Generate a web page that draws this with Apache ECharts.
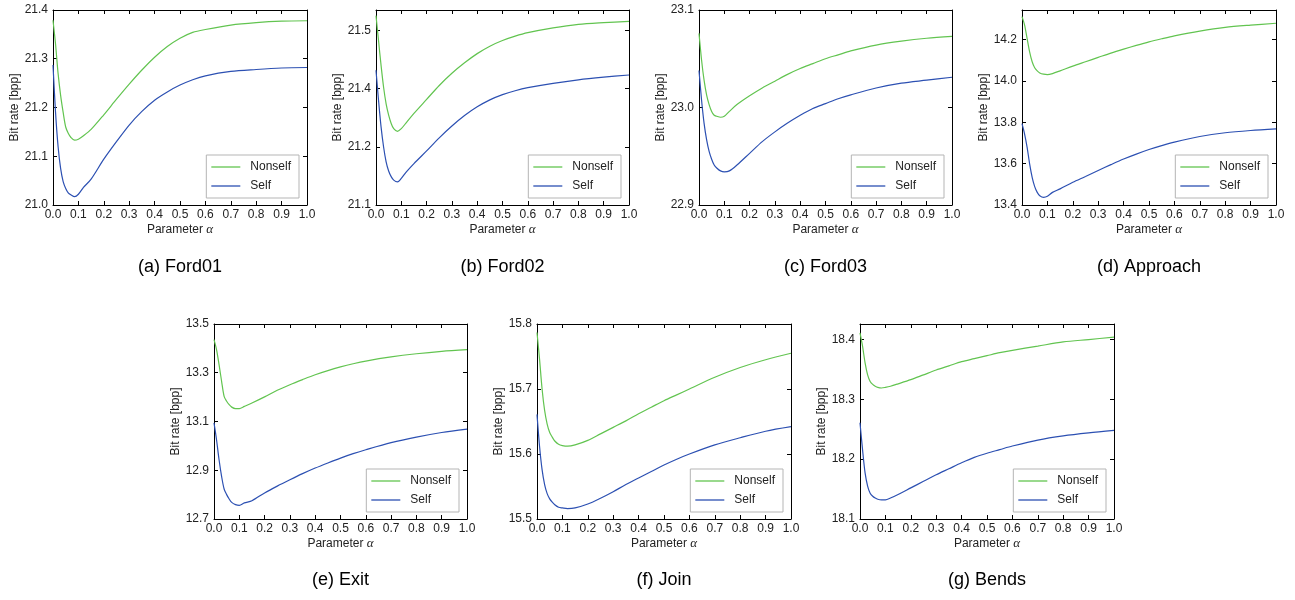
<!DOCTYPE html>
<html>
<head>
<meta charset="utf-8">
<title>Bit rate vs alpha</title>
<script src="https://cdn.jsdelivr.net/npm/echarts@6/dist/echarts.min.js"></script>
<style>
  html, body { margin: 0; padding: 0; background: #fff; }
  #chart { width: 1295px; height: 600px; }
</style>
</head>
<body>
<div id="chart"></div>
<script>
// sampled values of the parameter alpha (shared by every panel)
const alpha = [0, 0.01, 0.02, 0.03, 0.04, 0.05, 0.06, 0.07, 0.085, 0.1, 0.12, 0.15, 0.2,
    0.25, 0.3, 0.35, 0.4, 0.45, 0.5, 0.55, 0.6, 0.7, 0.8, 0.9, 1.0];

const captions = ['(a) Ford01', '(b) Ford02', '(c) Ford03', '(d) Approach', '(e) Exit', '(f) Join', '(g) Bends'];
const seriesNames = ['Nonself', 'Self'];

// bit rate [bpp], one array per sequence and method
const ford01Nonself = [21.379, 21.33, 21.27, 21.225, 21.19, 21.16, 21.147, 21.139, 21.133, 21.135, 21.142, 21.155, 21.185,
    21.217, 21.248, 21.277, 21.303, 21.325, 21.342, 21.354, 21.360, 21.369, 21.374, 21.377, 21.378];
const ford01Self = [21.287, 21.19, 21.12, 21.075, 21.048, 21.034, 21.025, 21.021, 21.017, 21.022, 21.036, 21.053, 21.094,
    21.13, 21.164, 21.192, 21.215, 21.232, 21.246, 21.257, 21.265, 21.274, 21.278, 21.281, 21.282];

const ford02Nonself = [21.534, 21.477, 21.42, 21.37, 21.332, 21.306, 21.287, 21.275, 21.269, 21.275, 21.289, 21.31, 21.342,
    21.374, 21.402, 21.426, 21.447, 21.464, 21.477, 21.487, 21.495, 21.506, 21.514, 21.518, 21.521];
const ford02Self = [21.409, 21.34, 21.279, 21.233, 21.199, 21.178, 21.165, 21.157, 21.153, 21.161, 21.176, 21.195, 21.224,
    21.254, 21.281, 21.305, 21.325, 21.341, 21.353, 21.362, 21.369, 21.379, 21.387, 21.393, 21.398];

const ford03Nonself = [23.076, 23.049, 23.028, 23.013, 23.003, 22.996, 22.992, 22.991, 22.990, 22.991, 22.996, 23.003, 23.012,
    23.020, 23.027, 23.034, 23.040, 23.045, 23.050, 23.054, 23.058, 23.064, 23.068, 23.071, 23.073];
const ford03Self = [23.038, 23.008, 22.984, 22.967, 22.955, 22.947, 22.941, 22.938, 22.935, 22.934, 22.935, 22.941, 22.953,
    22.965, 22.975, 22.984, 22.992, 22.999, 23.004, 23.009, 23.013, 23.020, 23.025, 23.028, 23.031];

const approachNonself = [14.310, 14.270, 14.205, 14.140, 14.092, 14.063, 14.048, 14.038, 14.032, 14.030, 14.035, 14.048, 14.071,
    14.092, 14.113, 14.134, 14.153, 14.171, 14.188, 14.203, 14.217, 14.240, 14.258, 14.269, 14.278];
const approachSelf = [13.793, 13.744, 13.680, 13.599, 13.534, 13.489, 13.461, 13.445, 13.437, 13.442, 13.461, 13.478, 13.510,
    13.538, 13.567, 13.595, 13.622, 13.646, 13.668, 13.687, 13.704, 13.731, 13.749, 13.760, 13.768];

const exitNonself = [13.436, 13.395, 13.333, 13.265, 13.203, 13.183, 13.169, 13.159, 13.153, 13.153, 13.162, 13.176, 13.201,
    13.228, 13.251, 13.272, 13.292, 13.309, 13.324, 13.337, 13.348, 13.365, 13.378, 13.388, 13.395];
const exitSelf = [13.094, 13.025, 12.943, 12.875, 12.823, 12.800, 12.782, 12.768, 12.759, 12.756, 12.766, 12.775, 12.807,
    12.835, 12.861, 12.886, 12.909, 12.930, 12.950, 12.968, 12.984, 13.013, 13.036, 13.055, 13.069];

const joinNonself = [15.787, 15.746, 15.70, 15.667, 15.646, 15.633, 15.626, 15.620, 15.615, 15.613, 15.612, 15.614, 15.621,
    15.631, 15.641, 15.651, 15.662, 15.672, 15.682, 15.691, 15.70, 15.718, 15.733, 15.745, 15.755];
const joinSelf = [15.661, 15.612, 15.576, 15.553, 15.539, 15.531, 15.526, 15.522, 15.518, 15.517, 15.516, 15.517, 15.523,
    15.532, 15.542, 15.553, 15.563, 15.573, 15.583, 15.592, 15.600, 15.614, 15.625, 15.635, 15.642];

const bendsNonself = [18.411, 18.389, 18.361, 18.341, 18.330, 18.325, 18.322, 18.320, 18.319, 18.320, 18.322, 18.326, 18.333,
    18.341, 18.349, 18.356, 18.363, 18.368, 18.373, 18.378, 18.382, 18.389, 18.396, 18.400, 18.404];
const bendsSelf = [18.261, 18.216, 18.177, 18.155, 18.143, 18.138, 18.135, 18.133, 18.132, 18.132, 18.135, 18.141, 18.152,
    18.163, 18.174, 18.184, 18.194, 18.203, 18.210, 18.216, 18.222, 18.232, 18.239, 18.244, 18.248];

const panelData = [
    [ford01Nonself, ford01Self],
    [ford02Nonself, ford02Self],
    [ford03Nonself, ford03Self],
    [approachNonself, approachSelf],
    [exitNonself, exitSelf],
    [joinNonself, joinSelf],
    [bendsNonself, bendsSelf],
];

// y axis ranges [min, max, interval]
const yRanges = [
    [21.0, 21.4, 0.1],
    [21.1, 21.547, 0.4 / 3],
    [22.9, 23.1, 0.1],
    [13.4, 14.342, 0.2],
    [12.7, 13.5, 0.2],
    [15.5, 15.8, 0.1],
    [18.1, 18.426, 0.1],
];

// plot boxes in px: [left, top, right, bottom]
const boxes = [
    [53, 10, 307, 205],
    [376, 10, 629, 205],
    [699, 10, 952, 205],
    [1022, 10, 1276, 205],
    [214, 324, 467, 519],
    [537, 324, 791, 519],
    [860, 324, 1114, 519],
];

const colors = ['#62c450', '#2c50b2'];
const axisFont = 'Liberation Sans';

const chart = echarts.init(document.getElementById('chart'), null, { renderer: 'canvas' });

const grid = [], xAxis = [], yAxis = [], series = [], legend = [], title = [];

boxes.forEach(([l, t, r, b], i) => {
    grid.push({ left: l, top: t, width: r - l, height: b - t, containLabel: false });

    const frame = {
        axisLine: { show: true, onZero: false, lineStyle: { color: '#000', width: 1 } },
        axisTick: { show: true, inside: true, length: 4, lineStyle: { color: '#000', width: 1 } },
        splitLine: { show: false },
    };
    const xBase = { type: 'value', gridIndex: i, min: 0, max: 1, interval: 0.1, ...frame };
    xAxis.push({
        ...xBase,
        position: 'bottom',
        axisLabel: { margin: 4, fontSize: 12, color: '#222', fontFamily: axisFont, formatter: (v) => v.toFixed(1) },
        name: 'Parameter {a|α}',
        nameLocation: 'middle',
        nameGap: 18,
        nameTextStyle: {
            fontSize: 12, color: '#222', fontFamily: axisFont,
            rich: { a: { fontSize: 13, fontStyle: 'italic', fontFamily: 'Liberation Serif', color: '#222' } },
        },
    });
    xAxis.push({ ...xBase, position: 'top', axisLabel: { show: false } });

    const [ymin, ymax, yint] = yRanges[i];
    const yBase = { type: 'value', gridIndex: i, min: ymin, max: ymax, interval: yint, scale: true, ...frame };
    yAxis.push({
        ...yBase,
        position: 'left',
        axisLabel: {
            margin: 5, fontSize: 12, color: '#222', fontFamily: axisFont,
            showMaxLabel: Math.abs((ymax - ymin) / yint - Math.round((ymax - ymin) / yint)) < 1e-6,
            formatter: (v) => v.toFixed(1),
        },
        name: 'Bit rate [bpp]',
        nameLocation: 'middle',
        nameGap: 31,
        nameTextStyle: { fontSize: 12, color: '#222', fontFamily: axisFont },
    });
    yAxis.push({ ...yBase, position: 'right', axisLabel: { show: false } });

    panelData[i].forEach((vals, k) => {
        series.push({
            type: 'line',
            name: seriesNames[k],
            xAxisIndex: 2 * i,
            yAxisIndex: 2 * i,
            data: alpha.map((a, j) => [a, vals[j]]),
            smooth: 0.3,
            symbol: 'none',
            lineStyle: { color: colors[k], width: 1.2 },
            itemStyle: { color: colors[k] },
            animation: false,
        });
    });

    legend.push({
        orient: 'vertical',
        right: 1295 - r + 8,
        bottom: 600 - b + 7,
        icon: 'rect',
        itemWidth: 29,
        itemHeight: 1.3,
        itemGap: 5,
        padding: [5, 8, 5, 5],
        borderColor: '#b5b5b5',
        borderWidth: 1,
        selectedMode: false,
        textStyle: { fontSize: 12, color: '#222', fontFamily: axisFont, padding: [0, 0, 0, 5], lineHeight: 14 },
        data: seriesNames,
    });

    title.push({
        text: captions[i],
        left: (l + r) / 2,
        top: i < 4 ? 258 : 571,
        textAlign: 'center',
        padding: 0,
        textStyle: { fontSize: 18, fontWeight: 'normal', fontFamily: 'Liberation Sans', color: '#000' },
    });
});

chart.setOption({
    backgroundColor: '#fff',
    animation: false,
    title,
    legend,
    grid,
    xAxis,
    yAxis,
    series,
});
</script>
</body>
</html>
